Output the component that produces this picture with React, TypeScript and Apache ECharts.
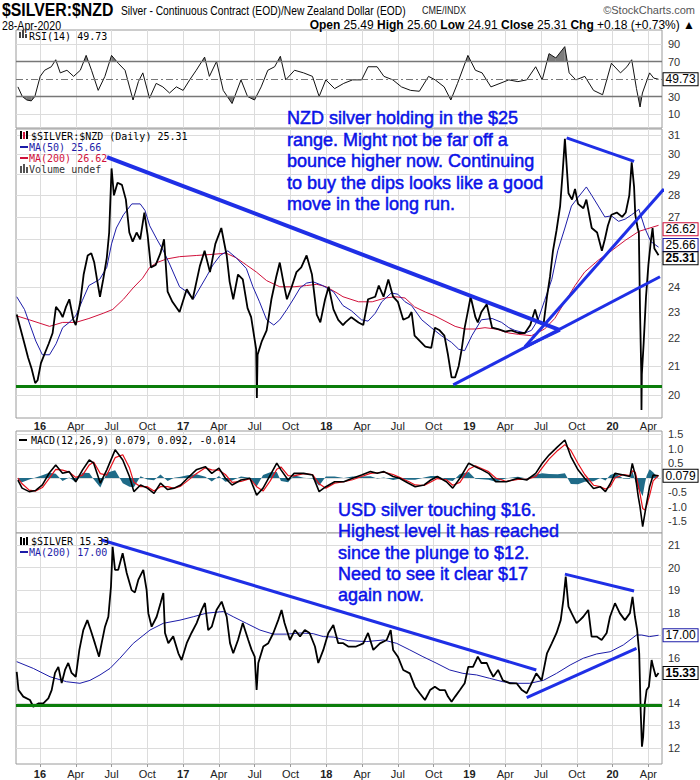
import React, { useEffect, useRef } from "react";
import * as echarts from "echarts";

// x values are months since 1 Jan 2016
const X_MIN = -2.01;
const X_MAX = 52.14;
const quarterTicks = [0, 3, 6, 9, 12, 15, 18, 21, 24, 27, 30, 33, 36, 39, 42, 45, 48, 51];
const quarterLabels = ["16", "Apr", "Jul", "Oct", "17", "Apr", "Jul", "Oct", "18", "Apr", "Jul", "Oct", "19", "Apr", "Jul", "Oct", "20", "Apr"];
const rsiTicks = [10, 30, 70, 90];
const nzdTicks = [20, 21, 22, 23, 24, 25, 26, 27, 28, 29, 30, 31];
const nzdHiddenLabels = [25, 26];
const macdTicks = [-1.5, -1.0, -0.5, 0, 0.5, 1.0, 1.5];
const macdHiddenLabels = [0];
const usdTicks = [12, 13, 14, 15, 16, 17, 18, 19, 20, 21];
const usdHiddenLabels = [15, 17];

const rsi14: [number, number][] = [
  [-1.85, 41], [-1.48, 30], [-1.1, 26], [-0.73, 25], [-0.43, 30], [0.02, 53], [0.39, 60], [0.95, 64], [1.32, 72], [1.7, 57],
  [2.26, 60], [2.82, 53], [3.38, 60], [3.87, 77], [4.32, 60], [4.88, 37], [5.44, 53], [6.0, 77], [6.56, 68], [7.13, 60],
  [7.8, 26], [8.25, 47], [8.62, 57], [9.18, 28], [9.74, 45], [10.3, 41], [10.86, 34], [11.43, 41], [12.0, 37], [12.55, 49],
  [13.1, 60], [13.8, 75], [14.2, 53], [14.8, 70], [15.36, 37], [16.1, 22], [16.85, 49], [17.4, 30], [17.98, 26], [18.54, 41],
  [19.1, 60], [19.67, 64], [20.15, 76], [20.6, 49], [21.34, 60], [22.1, 57], [22.84, 53], [23.4, 30], [23.96, 49], [24.7, 39],
  [25.46, 45], [26.2, 49], [26.96, 49], [27.5, 64], [28.26, 64], [28.83, 53], [29.58, 49], [30.3, 41], [31.07, 37], [31.8, 36],
  [32.57, 53], [33.13, 49], [33.88, 41], [34.44, 26], [35.0, 45], [35.87, 77], [36.5, 60], [37.06, 57], [37.8, 41], [38.56, 45],
  [39.3, 49], [40.06, 47], [40.8, 49], [41.55, 64], [42.1, 49], [42.67, 79], [43.24, 74], [43.99, 87], [44.36, 57], [44.92, 49],
  [45.67, 53], [46.4, 37], [47.16, 32], [47.9, 68], [48.66, 57], [49.2, 64], [49.6, 72], [50.0, 39], [50.3, 18], [50.5, 34],
  [51.1, 57], [51.45, 51], [51.85, 49.73],
];

const nzdClose: [number, number][] = [
  [-1.95, 22.9], [-1.6, 22.3], [-1.3, 21.8], [-1.0, 21.3], [-0.7, 20.9], [-0.4, 20.4], [-0.2, 20.5], [0.08, 21.1], [0.45, 21.5], [0.73, 21.8],
  [1.06, 22.2], [1.34, 23.2], [1.68, 23.0], [1.9, 22.8], [2.18, 23.2], [2.46, 23.5], [2.8, 22.7], [3.0, 22.5], [3.38, 23.4], [3.66, 24.5],
  [4.0, 25.3], [4.3, 25.4], [4.55, 25.0], [4.78, 24.3], [5.03, 23.6], [5.3, 24.3], [5.6, 25.2], [5.8, 26.3], [6.0, 29.3], [6.2, 28.0],
  [6.5, 28.6], [6.87, 28.5], [7.2, 27.8], [7.49, 26.3], [7.77, 25.9], [8.1, 26.3], [8.4, 26.0], [8.75, 27.2], [9.02, 26.2], [9.3, 24.8],
  [9.7, 24.9], [10.1, 25.4], [10.4, 26.0], [10.7, 23.8], [11.1, 23.4], [11.7, 23.0], [12.3, 23.9], [12.8, 23.5], [13.4, 24.85], [13.8, 25.5],
  [14.25, 24.6], [14.7, 25.8], [15.2, 26.5], [15.65, 25.3], [15.9, 24.2], [16.2, 23.5], [16.6, 24.5], [17.0, 24.3], [17.4, 23.15], [17.7, 22.8],
  [18.12, 21.6], [18.18, 19.9], [18.24, 21.4], [18.6, 21.9], [19.0, 22.3], [19.4, 23.5], [19.8, 24.4], [20.1, 25.0], [20.4, 24.2], [20.7, 23.5],
  [21.1, 24.0], [21.5, 24.6], [21.9, 24.8], [22.35, 25.3], [22.8, 24.5], [23.2, 22.9], [23.5, 22.6], [23.9, 23.5], [24.2, 24.0], [24.6, 23.1],
  [25.0, 22.7], [25.4, 22.5], [25.6, 22.6], [26.1, 22.8], [26.7, 22.6], [27.1, 22.5], [27.5, 23.5], [28.1, 23.6], [28.4, 24.05], [28.8, 23.6],
  [29.2, 24.3], [29.6, 23.6], [30.0, 23.4], [30.45, 22.7], [30.9, 22.8], [31.15, 23.0], [31.4, 22.1], [31.85, 21.9], [32.3, 21.7], [32.8, 21.65],
  [33.1, 22.4], [33.5, 22.3], [33.9, 22.1], [34.2, 21.4], [34.5, 20.6], [34.8, 20.6], [35.1, 21.0], [35.35, 21.6], [35.6, 22.4], [35.9, 23.1],
  [36.1, 23.6], [36.5, 22.8], [36.7, 22.6], [37.0, 23.0], [37.45, 23.3], [37.9, 22.4], [38.4, 22.35], [39.0, 22.25], [39.5, 22.3], [40.1, 22.2],
  [40.65, 22.2], [41.1, 22.5], [41.5, 23.1], [41.8, 22.6], [42.2, 22.5], [42.5, 23.6], [42.75, 24.4], [43.0, 25.5], [43.3, 26.4], [43.6, 27.5],
  [43.8, 29.0], [44.0, 30.8], [44.3, 28.1], [44.6, 27.8], [44.85, 28.3], [45.1, 27.6], [45.55, 27.4], [45.8, 27.8], [46.25, 26.5], [46.7, 26.3],
  [47.1, 25.5], [47.35, 26.0], [47.6, 26.6], [47.9, 27.1], [48.35, 27.2], [48.8, 27.0], [49.1, 27.2], [49.4, 28.0], [49.6, 29.6], [49.8, 28.4],
  [49.9, 27.1], [50.1, 26.5], [50.2, 26.3], [50.3, 23.0], [50.4, 20.8], [50.42, 19.5], [50.45, 20.7], [50.6, 21.8], [50.8, 23.6], [51.0, 24.9],
  [51.2, 25.9], [51.35, 26.5], [51.5, 25.6], [51.85, 25.31],
];

const nzdMa50: [number, number][] = [
  [-1.95, 23.6], [-1.3, 23.1], [-0.35, 21.9], [0.2, 21.4], [0.8, 21.4], [1.35, 21.8], [1.9, 22.4], [2.45, 22.6], [3.0, 22.85], [3.55, 23.45],
  [4.1, 24.05], [5.0, 24.3], [5.6, 24.8], [6.0, 25.8], [6.4, 26.5], [7.0, 27.1], [7.7, 27.6], [8.4, 27.6], [8.8, 27.3], [9.2, 26.6],
  [9.8, 26.0], [10.35, 25.5], [10.9, 24.9], [11.7, 24.0], [12.3, 23.8], [12.85, 23.5], [13.4, 23.95], [14.0, 24.45], [14.5, 24.9], [15.1, 25.3],
  [15.75, 25.5], [16.45, 25.2], [17.3, 24.75], [17.85, 24.0], [18.4, 23.4], [19.0, 22.7], [19.6, 22.5], [20.1, 22.7], [20.7, 23.1], [21.3, 23.55],
  [21.8, 23.95], [22.35, 24.15], [22.9, 24.2], [23.7, 24.05], [24.6, 23.8], [25.4, 23.25], [26.1, 23.05], [26.95, 22.7], [27.5, 22.65], [28.1, 22.95],
  [28.65, 23.4], [29.45, 23.75], [30.0, 23.7], [30.6, 23.4], [31.15, 23.25], [32.0, 22.7], [32.8, 22.4], [33.65, 22.1], [34.5, 21.85], [35.1, 21.6],
  [35.6, 21.55], [36.2, 22.1], [37.0, 22.7], [37.9, 22.75], [38.7, 22.6], [39.3, 22.4], [39.8, 22.3], [40.65, 22.2], [41.2, 22.3], [41.75, 22.7],
  [42.3, 23.45], [42.9, 24.3], [43.4, 25.5], [44.0, 26.5], [44.55, 27.5], [45.1, 27.9], [45.8, 28.4], [46.25, 28.0], [46.8, 27.5], [47.35, 27.0],
  [47.9, 27.05], [48.5, 26.8], [49.05, 26.9], [49.6, 27.1], [50.2, 27.35], [50.7, 26.5], [51.2, 25.9], [51.85, 25.66],
];

const nzdMa200: [number, number][] = [
  [-1.95, 22.85], [-0.9, 22.7], [0.8, 22.45], [1.9, 22.6], [3.0, 22.6], [4.1, 22.75], [5.3, 22.95], [6.1, 23.1], [7.0, 23.5], [7.8, 23.95],
  [8.6, 24.35], [9.2, 24.8], [9.8, 25.0], [10.6, 25.15], [11.7, 25.25], [13.1, 25.3], [14.5, 25.35], [15.6, 25.4], [16.45, 25.2], [17.3, 24.9],
  [18.15, 24.6], [19.0, 24.25], [20.1, 24.0], [21.3, 24.0], [22.35, 24.05], [23.2, 24.1], [24.0, 24.0], [24.9, 23.75], [25.4, 23.6], [26.7, 23.4],
  [27.85, 23.4], [28.95, 23.55], [29.8, 23.6], [30.6, 23.55], [31.4, 23.2], [32.3, 23.0], [33.1, 22.85], [33.95, 22.65], [34.8, 22.45], [35.6, 22.35],
  [36.5, 22.35], [37.3, 22.4], [38.2, 22.35], [39.3, 22.2], [40.1, 22.15], [41.2, 22.1], [42.3, 22.35], [43.15, 22.75], [44.0, 23.4], [44.85, 24.05],
  [45.65, 24.6], [46.8, 25.1], [47.9, 25.5], [49.05, 25.95], [50.2, 26.35], [51.85, 26.62],
];

const macdLine: [number, number][] = [
  [-1.85, -0.07], [-1.5, -0.35], [-0.9, -0.47], [-0.36, -0.43], [0.2, -0.24], [0.76, 0.16], [1.32, 0.45], [1.89, 0.16], [2.45, 0.22], [3.0, -0.13],
  [3.57, 0.28], [4.13, 0.62], [4.5, 0.51], [5.06, -0.18], [5.6, 0.28], [6.3, 0.97], [6.94, 0.62], [7.5, 0.05], [7.87, -0.47], [8.43, -0.24],
  [9.0, -0.35], [9.56, -0.53], [10.1, -0.18], [10.7, -0.4], [11.24, -0.35], [11.8, -0.24], [12.36, -0.01], [13.1, 0.28], [13.86, 0.39], [14.4, 0.16],
  [15.0, 0.34], [15.54, -0.01], [16.1, -0.24], [16.85, -0.07], [17.6, -0.01], [18.16, -0.59], [18.7, -0.35], [19.3, 0.1], [19.85, 0.51], [20.2, 0.28],
  [20.8, -0.07], [21.3, 0.16], [22.1, 0.16], [22.85, 0.1], [23.4, -0.47], [23.96, -0.3], [24.7, -0.13], [25.46, -0.13], [26.2, -0.01], [26.96, 0.1],
  [27.7, 0.22], [28.27, 0.16], [28.83, 0.22], [29.6, 0.05], [30.14, -0.01], [30.89, -0.18], [31.45, -0.3], [32.2, -0.24], [32.76, -0.07], [33.3, 0.05],
  [34.07, -0.13], [34.6, -0.35], [35.2, -0.01], [35.94, 0.51], [36.5, 0.39], [37.06, 0.28], [37.6, 0.16], [38.2, -0.13], [39.1, -0.13], [40.06, -0.01],
  [40.8, -0.07], [41.55, 0.16], [42.1, 0.51], [42.67, 0.79], [43.4, 1.08], [44.0, 1.31], [44.5, 0.74], [45.1, 0.28], [45.66, -0.01], [46.4, -0.36],
  [46.96, -0.3], [47.4, -0.47], [47.8, -0.2], [48.2, 0.16], [48.9, 0.1], [49.45, 0.05], [49.65, 0.5], [49.9, 0.1], [50.15, -0.64], [50.3, -1.0],
  [50.52, -1.68], [50.85, -0.87], [51.1, -0.3], [51.4, 0.1], [51.85, 0.079],
];

const macdSignal: [number, number][] = [
  [-1.85, 0.0], [-1.5, -0.2], [-0.9, -0.42], [-0.36, -0.45], [0.2, -0.33], [0.76, -0.02], [1.32, 0.3], [1.89, 0.27], [2.45, 0.2], [3.0, 0.02],
  [3.57, 0.1], [4.13, 0.45], [4.5, 0.55], [5.06, 0.15], [5.6, 0.1], [6.3, 0.7], [6.94, 0.8], [7.5, 0.35], [7.87, -0.15], [8.43, -0.3],
  [9.0, -0.3], [9.56, -0.45], [10.1, -0.3], [10.7, -0.3], [11.24, -0.36], [11.8, -0.28], [12.36, -0.1], [13.1, 0.15], [13.86, 0.35], [14.4, 0.28],
  [15.0, 0.27], [15.54, 0.12], [16.1, -0.15], [16.85, -0.12], [17.6, -0.02], [18.16, -0.3], [18.7, -0.45], [19.3, -0.1], [19.85, 0.3], [20.2, 0.38],
  [20.8, 0.08], [21.3, 0.07], [22.1, 0.15], [22.85, 0.12], [23.4, -0.2], [23.96, -0.35], [24.7, -0.18], [25.46, -0.13], [26.2, -0.06], [26.96, 0.05],
  [27.7, 0.16], [28.27, 0.18], [28.83, 0.2], [29.6, 0.12], [30.14, 0.02], [30.89, -0.12], [31.45, -0.24], [32.2, -0.26], [32.76, -0.14], [33.3, -0.02],
  [34.07, -0.06], [34.6, -0.25], [35.2, -0.15], [35.94, 0.3], [36.5, 0.42], [37.06, 0.32], [37.6, 0.22], [38.2, 0.0], [39.1, -0.12], [40.06, -0.05],
  [40.8, -0.05], [41.55, 0.05], [42.1, 0.35], [42.67, 0.65], [43.4, 0.95], [44.0, 1.15], [44.5, 0.95], [45.1, 0.5], [45.66, 0.12], [46.4, -0.25],
  [46.96, -0.3], [47.4, -0.38], [47.8, -0.3], [48.2, 0.0], [48.9, 0.12], [49.45, 0.08], [49.65, 0.25], [49.9, 0.2], [50.15, -0.25], [50.3, -0.55],
  [50.52, -1.05], [50.7, -1.1], [50.85, -0.95], [51.1, -0.6], [51.4, -0.1], [51.85, 0.092],
];

const macdHist: [number, number][] = [
  [-1.85, -0.08], [-1.5, -0.15], [-0.9, -0.05], [-0.36, 0.02], [0.2, 0.09], [0.76, 0.18], [1.32, 0.15], [1.89, -0.1], [2.45, 0.02], [3.0, -0.15],
  [3.57, 0.18], [4.13, 0.17], [4.5, -0.04], [5.06, -0.33], [5.6, 0.18], [6.3, 0.27], [6.94, -0.18], [7.5, -0.3], [7.87, -0.32], [8.43, 0.06],
  [9.0, -0.05], [9.56, -0.08], [10.1, 0.12], [10.7, -0.1], [11.24, 0.01], [11.8, 0.04], [12.36, 0.09], [13.1, 0.13], [13.86, 0.04], [14.4, -0.12],
  [15.0, 0.07], [15.54, -0.13], [16.1, -0.09], [16.85, 0.05], [17.6, 0.01], [18.16, -0.29], [18.7, 0.1], [19.3, 0.2], [19.85, 0.21], [20.2, -0.1],
  [20.8, -0.15], [21.3, 0.09], [22.1, 0.01], [22.85, -0.02], [23.4, -0.27], [23.96, 0.05], [24.7, 0.05], [25.46, 0.0], [26.2, 0.05], [26.96, 0.05],
  [27.7, 0.06], [28.27, -0.02], [28.83, 0.02], [29.6, -0.07], [30.14, -0.03], [30.89, -0.06], [31.45, -0.06], [32.2, 0.02], [32.76, 0.07], [33.3, 0.07],
  [34.07, -0.07], [34.6, -0.1], [35.2, 0.14], [35.94, 0.21], [36.5, -0.03], [37.06, -0.04], [37.6, -0.06], [38.2, -0.13], [39.1, -0.01], [40.06, 0.04],
  [40.8, -0.02], [41.55, 0.11], [42.1, 0.16], [42.67, 0.14], [43.4, 0.13], [44.0, 0.16], [44.5, -0.21], [45.1, -0.22], [45.66, -0.13], [46.4, -0.11],
  [46.96, 0.0], [47.4, -0.09], [47.8, 0.1], [48.2, 0.16], [48.9, -0.02], [49.45, -0.03], [49.65, 0.25], [49.9, -0.1], [50.15, -0.39], [50.3, -0.45],
  [50.52, -0.63], [50.7, -0.2], [50.85, 0.08], [51.1, 0.3], [51.4, 0.2], [51.85, -0.014],
];

const usdClose: [number, number][] = [
  [-1.95, 15.38], [-1.8, 14.57], [-1.4, 14.28], [-0.84, 14.13], [-0.56, 13.83], [-0.14, 13.98], [0.28, 13.98], [0.7, 14.2], [0.98, 14.57], [1.26, 15.33],
  [1.54, 15.6], [1.82, 14.88], [2.1, 15.46], [2.37, 15.77], [2.65, 15.33], [3.0, 15.16], [3.3, 16.35], [3.63, 17.23], [3.97, 17.67], [4.25, 17.23],
  [4.6, 16.65], [4.95, 16.05], [5.17, 16.65], [5.45, 17.38], [5.73, 17.82], [5.95, 19.15], [6.09, 20.92], [6.29, 19.9], [6.56, 19.9], [6.93, 20.64],
  [7.27, 19.76], [7.68, 19.0], [7.96, 18.9], [8.24, 19.45], [8.66, 19.9], [8.94, 19.0], [9.08, 17.98], [9.36, 17.38], [9.78, 17.82], [10.11, 18.43],
  [10.34, 18.87], [10.48, 17.1], [10.76, 16.65], [11.17, 16.95], [11.6, 16.2], [11.87, 15.9], [12.3, 16.65], [12.7, 17.1], [13.13, 17.54], [13.55, 18.12],
  [13.83, 18.43], [14.1, 17.23], [14.4, 17.38], [14.8, 18.12], [15.23, 18.49], [15.65, 17.82], [15.93, 16.65], [16.2, 16.2], [16.6, 16.79], [17.0, 17.54],
  [17.46, 16.79], [17.74, 16.35], [18.0, 16.05], [18.16, 14.57], [18.3, 15.77], [18.72, 16.5], [19.14, 16.65], [19.56, 17.1], [19.97, 17.67], [20.25, 18.12],
  [20.5, 17.54], [20.95, 16.79], [21.37, 17.23], [21.8, 16.95], [22.2, 17.23], [22.6, 17.1], [23.05, 16.5], [23.33, 15.77], [23.75, 16.35], [24.17, 17.1],
  [24.59, 17.45], [25.0, 16.65], [25.42, 16.65], [25.84, 16.5], [26.5, 16.5], [27.1, 16.64], [27.5, 17.1], [27.94, 16.35], [28.5, 16.64], [29.06, 16.79],
  [29.4, 17.23], [29.6, 16.35], [30.0, 16.05], [30.45, 15.46], [31.0, 15.31], [31.43, 14.72], [31.85, 14.42], [32.27, 14.13], [32.7, 14.57], [33.1, 14.72],
  [33.5, 14.57], [33.95, 14.57], [34.2, 14.28], [34.5, 14.05], [34.8, 14.28], [35.2, 14.57], [35.6, 14.87], [35.9, 15.6], [36.3, 15.6], [36.7, 16.05],
  [37.0, 15.77], [37.45, 15.77], [37.7, 15.46], [38.0, 15.16], [38.4, 15.46], [38.8, 15.0], [39.4, 14.87], [39.95, 14.87], [40.4, 14.57], [40.8, 14.43],
  [41.2, 14.87], [41.6, 15.31], [42.05, 15.0], [42.5, 16.2], [42.9, 16.64], [43.3, 17.1], [43.65, 17.67], [43.87, 18.56], [44.07, 19.6], [44.3, 18.27],
  [44.56, 17.98], [44.98, 17.54], [45.26, 17.67], [45.54, 17.82], [45.96, 18.12], [46.24, 16.94], [46.66, 16.94], [47.08, 16.79], [47.5, 17.1], [47.78, 17.82],
  [48.2, 18.42], [48.6, 17.98], [49.03, 17.67], [49.45, 17.98], [49.67, 18.7], [49.87, 17.82], [50.06, 17.23], [50.23, 16.2], [50.35, 13.69], [50.46, 12.06],
  [50.56, 12.5], [50.7, 13.98], [50.85, 14.57], [51.04, 14.72], [51.27, 15.9], [51.4, 15.6], [51.63, 15.16], [51.85, 15.33],
];

const usdMa200: [number, number][] = [
  [-1.95, 15.83], [-0.56, 15.53], [0.84, 15.16], [2.23, 14.94], [3.35, 14.87], [4.19, 15.0], [5.03, 15.24], [5.87, 15.53], [6.7, 15.98], [7.82, 16.64],
  [9.22, 17.23], [10.34, 17.53], [11.74, 17.67], [12.85, 17.82], [13.97, 17.98], [15.37, 18.05], [16.2, 17.82], [17.3, 17.53], [18.44, 17.23], [19.56, 17.05],
  [20.67, 17.05], [21.8, 17.1], [22.9, 17.07], [23.75, 16.94], [24.6, 16.92], [25.84, 16.76], [27.4, 16.72], [28.8, 16.79], [29.9, 16.64], [31.0, 16.35],
  [32.1, 16.05], [33.2, 15.77], [34.35, 15.46], [35.45, 15.31], [36.6, 15.24], [37.7, 15.09], [38.8, 14.94], [39.95, 14.87], [41.05, 14.87], [42.2, 15.0],
  [43.3, 15.31], [44.44, 15.68], [45.54, 15.98], [46.66, 16.17], [47.8, 16.27], [48.9, 16.57], [50.0, 17.01], [50.44, 17.01], [51.1, 16.94], [51.85, 17.0],
];

// hand-drawn annotation lines: [month, price] endpoints
const nzdTrendLines: { pts: [number, number][]; w: number }[] = [
  { pts: [[5.62, 29.87], [43.59, 22.31]], w: 4 },
  { pts: [[44.15, 30.85], [49.8, 29.65]], w: 3 },
  { pts: [[34.64, 20.34], [51.97, 24.41]], w: 3 },
  { pts: [[40.65, 21.69], [52.3, 28.3]], w: 3 },
  { pts: [[40.65, 21.69], [43.59, 22.31]], w: 3 },
];
const nzdSupport = 20.28;
const usdTrendLines: { pts: [number, number][]; w: number }[] = [
  { pts: [[5.17, 21.22], [41.6, 15.46]], w: 3 },
  { pts: [[44.0, 19.71], [49.8, 18.96]], w: 3 },
  { pts: [[40.8, 14.23], [50.0, 16.42]], w: 3 },
];
const usdSupport = 13.88;

const nzdNote = [
  "NZD silver holding in the $25",
  "range. Might not be far off a",
  "bounce higher now. Continuing",
  "to buy the dips looks like a good",
  "move in the long run.",
];
const usdNote = [
  "USD silver touching $16.",
  "Highest level it has reached",
  "since the plunge to $12.",
  "Need to see it clear $17",
  "again now.",
];

const FONT = "'Liberation Sans', Arial, sans-serif";
const MONO = "'DejaVu Sans Mono', 'Liberation Mono', monospace";
const TREND = "#1f2fe6";
const GREEN = "#0b7d0b";
const RED = "#d0103a";
const BLUE = "#1c1ca8";
const NOTE = "#0a12e8";
const GRIDC = "#dcdcdc";
const RSI_HI = 70;
const RSI_LO = 30;

function endLabel(text: string, color: string, bold = false, dy = 0) {
  return {
    show: true,
    formatter: text,
    distance: 5,
    offset: [0, dy],
    fontFamily: FONT,
    fontSize: 12,
    lineHeight: 11,
    fontWeight: bold ? "bold" : "normal",
    color: "#000",
    backgroundColor: "#fff",
    borderColor: color,
    borderWidth: 1,
    padding: [1, 2, 0, 2],
  };
}

function lineSeries(idx: number, data: number[][], color: string, width: number, extra: any = {}) {
  return {
    type: "line",
    xAxisIndex: idx,
    yAxisIndex: idx,
    data,
    symbol: "none",
    showSymbol: false,
    silent: true,
    animation: false,
    lineStyle: { color, width },
    ...extra,
  };
}

// shaded parts of one RSI segment beyond a threshold (above if up, else below)
function zonePolygon(api: any, a: [number, number], b: [number, number], t: number, up: boolean) {
  const over = (v: number) => (up ? v > t : v < t);
  const [x0, y0] = a;
  const [x1, y1] = b;
  if (!over(y0) && !over(y1)) return null;
  let pts: number[][];
  if (over(y0) && over(y1)) {
    pts = [[x0, t], [x0, y0], [x1, y1], [x1, t]];
  } else {
    const xc = x0 + ((t - y0) / (y1 - y0)) * (x1 - x0);
    pts = over(y0) ? [[x0, t], [x0, y0], [xc, t]] : [[xc, t], [x1, y1], [x1, t]];
  }
  return {
    type: "polygon",
    shape: { points: pts.map((p) => api.coord(p)) },
    style: { fill: "#7d7d7d" },
  };
}

function buildOption() {
  const ln = (p: number) => Math.log(p);
  const grids = [
    { top: 30, height: 98 },
    { top: 129, height: 289 },
    { top: 431, height: 102 },
    { top: 533, height: 231 },
  ].map((g) => ({ left: 16, width: 646, ...g, show: true, borderColor: "#9a9a9a", borderWidth: 1, backgroundColor: "#fff" }));

  const xFormatter = (v: number) => {
    const i = quarterTicks.indexOf(Math.round(v));
    const s = i >= 0 ? quarterLabels[i] : "";
    return /^\d/.test(s) ? `{b|${s}}` : s;
  };
  const xAxes = [0, 1, 2, 3].map((i) => ({
    type: "value",
    gridIndex: i,
    min: X_MIN,
    max: X_MAX,
    axisLine: { show: false },
    axisTick: { show: i === 3, customValues: quarterTicks, length: 3, lineStyle: { color: "#999" } },
    axisLabel: {
      show: i === 1 || i === 3,
      customValues: quarterTicks,
      formatter: xFormatter,
      margin: i === 1 ? 2 : 4,
      fontFamily: FONT,
      fontSize: 11,
      color: "#222",
      rich: { b: { fontWeight: "bold", fontSize: 11, fontFamily: FONT, color: "#222" } },
    },
    splitLine: { show: true, lineStyle: { color: GRIDC, width: 1 } },
  }));

  const near = (list: number[], v: number) => list.some((t) => Math.abs(t - v) < 1e-6);
  const yLabel = { fontFamily: FONT, fontSize: 11, color: "#333", margin: 6 };
  const yAxes = [
    { gridIndex: 0, min: -6, max: 106, ticks: rsiTicks, fmt: (v: number) => String(v) },
    {
      gridIndex: 1,
      min: 2.95676,
      max: 3.44411,
      ticks: nzdTicks.map(ln),
      fmt: (v: number) => {
        const p = Math.round(Math.exp(v));
        return near(nzdHiddenLabels, p) ? "" : String(p);
      },
    },
    {
      gridIndex: 2,
      min: -1.897,
      max: 1.62,
      ticks: macdTicks,
      fmt: (v: number) => (near(macdHiddenLabels, v) ? "" : v.toFixed(1)),
    },
    {
      gridIndex: 3,
      min: 11.293,
      max: 21.532,
      ticks: usdTicks,
      fmt: (v: number) => (near(usdHiddenLabels, v) ? "" : String(v)),
    },
  ].map((a) => ({
    type: "value",
    gridIndex: a.gridIndex,
    position: "right",
    min: a.min,
    max: a.max,
    axisLine: { show: false },
    axisTick: { show: false, customValues: a.ticks },
    axisLabel: { ...yLabel, customValues: a.ticks, formatter: a.fmt },
    splitLine: { show: true, lineStyle: { color: GRIDC, width: 1 } },
  }));

  const nzd = (arr: [number, number][]) => arr.map(([m, p]) => [m, ln(p)]);

  const series: any[] = [];
  // RSI overbought / oversold shading
  series.push({
    type: "custom",
    xAxisIndex: 0,
    yAxisIndex: 0,
    data: rsi14,
    encode: { x: 0, y: 1 },
    silent: true,
    z: 1,
    clip: true,
    renderItem: (params: any, api: any) => {
      const i = params.dataIndex;
      if (i >= rsi14.length - 1) return null;
      const a = rsi14[i];
      const b = rsi14[i + 1];
      const kids = [zonePolygon(api, a, b, RSI_HI, true), zonePolygon(api, a, b, RSI_LO, false)].filter(Boolean);
      if (!kids.length) return null;
      return { type: "group", children: kids };
    },
  });
  series.push(
    lineSeries(0, rsi14, "#111", 1, {
      z: 3,
      endLabel: endLabel("49.73", "#000"),
      markLine: {
        silent: true,
        symbol: "none",
        label: { show: false },
        data: [
          { yAxis: RSI_HI, lineStyle: { color: "#777", width: 1.3, type: "solid" } },
          { yAxis: RSI_LO, lineStyle: { color: "#777", width: 1.3, type: "solid" } },
          { yAxis: 50, lineStyle: { color: "#777", width: 1, type: [7, 3, 2, 3] } },
        ],
      },
    })
  );
  // Main NZD panel
  series.push(lineSeries(1, nzd(nzdMa200), RED, 1, { endLabel: endLabel("26.62", RED, false, 4), z: 3 }));
  series.push(lineSeries(1, nzd(nzdMa50), BLUE, 1, { endLabel: endLabel("25.66", BLUE, false, -2), z: 3 }));
  series.push(
    lineSeries(1, nzd(nzdClose), "#000", 1.8, {
      z: 4,
      endLabel: endLabel("25.31", "#000", true, 3),
      markLine: {
        silent: true,
        symbol: "none",
        label: { show: false },
        data: [{ yAxis: ln(nzdSupport), lineStyle: { color: GREEN, width: 3, type: "solid" } }],
      },
    })
  );
  nzdTrendLines.forEach((t) => series.push(lineSeries(1, nzd(t.pts), TREND, t.w, { z: 5 })));

  // MACD panel
  series.push(lineSeries(2, macdHist, "#1f6b88", 0, { areaStyle: { color: "#1f6b88", opacity: 1 }, z: 2 }));
  series.push(lineSeries(2, macdSignal, "#e8101a", 1.2, { z: 3 }));
  series.push(lineSeries(2, macdLine, "#000", 1.6, { z: 4, endLabel: endLabel("0.079", "#000") }));

  // USD panel
  series.push(lineSeries(3, usdMa200, BLUE, 1, { endLabel: endLabel("17.00", BLUE), z: 3 }));
  series.push(
    lineSeries(3, usdClose, "#000", 1.8, {
      z: 4,
      endLabel: endLabel("15.33", "#000", true),
      markLine: {
        silent: true,
        symbol: "none",
        label: { show: false },
        data: [{ yAxis: usdSupport, lineStyle: { color: GREEN, width: 3, type: "solid" } }],
      },
    })
  );
  usdTrendLines.forEach((t) => series.push(lineSeries(3, t.pts, TREND, t.w, { z: 5 })));

  const txt = (x: number, y: number, text: string, style: any = {}, extra: any = {}) => ({
    type: "text",
    x,
    y,
    silent: true,
    z: 100,
    ...extra,
    style: { text, fill: "#000", fontFamily: FONT, fontSize: 12, verticalAlign: "middle", align: "left", ...style },
  });
  const rect = (x: number, y: number, w: number, h: number, fill: string) => ({
    type: "rect",
    silent: true,
    z: 100,
    shape: { x, y, width: w, height: h },
    style: { fill },
  });

  const graphic: any[] = [
    txt(2, 10, "$SILVER:$NZD", { fontSize: 18, fontWeight: "bold" }, { scaleX: 0.88 }),
    txt(121, 10, "Silver - Continuous Contract (EOD)/New Zealand Dollar (EOD)", { fontSize: 13.5 }, { scaleX: 0.76 }),
    txt(422, 10, "CME/INDX", { fontSize: 10, fill: "#222" }, { scaleX: 0.9 }),
    txt(695, 10, "\u00A9StockCharts.com", { fontSize: 11, fill: "#555", align: "right" }),
    txt(2, 25, "28-Apr-2020", { fontSize: 12.5 }, { scaleX: 0.85 }),
    txt(695, 25, "{b|Open} 25.49 {b|High} 25.60 {b|Low} 24.91 {b|Close} 25.31 {b|Chg} +0.18 (+0.73%) \u25B2", {
      fontSize: 12,
      align: "right",
      rich: { b: { fontWeight: "bold", fontSize: 12, fontFamily: FONT } },
    }),
    // RSI legend
    rect(19, 32, 2, 6, "#444"),
    rect(22, 30, 2, 8, "#444"),
    rect(25, 34, 2, 4, "#444"),
    txt(29, 36, "RSI(14) 49.73", { fontFamily: MONO, fontSize: 10 }),
    // main legend
    rect(20, 131, 2, 8, "#000"),
    rect(23, 132, 2, 7, RED),
    rect(26, 131, 2, 8, "#000"),
    txt(31, 136, "$SILVER:$NZD (Daily) 25.31", { fontFamily: MONO, fontSize: 10 }),
    rect(20, 146, 8, 2, BLUE),
    txt(29, 147, "MA(50) 25.66", { fontFamily: MONO, fontSize: 10, fill: BLUE }),
    rect(20, 157, 8, 2, RED),
    txt(29, 158, "MA(200) 26.62", { fontFamily: MONO, fontSize: 10, fill: RED }),
    rect(20, 166, 2, 7, "#555"),
    rect(23, 164, 2, 9, "#555"),
    rect(26, 167, 2, 6, "#555"),
    txt(29, 169, "Volume undef", { fontFamily: MONO, fontSize: 10, fill: "#333" }),
    // MACD legend
    rect(19, 439, 8, 2, "#000"),
    txt(31, 440, "{k|MACD(12,26,9) 0.079,} {r|0.092,} {t|-0.014}", {
      fontFamily: MONO,
      fontSize: 10,
      rich: {
        k: { color: "#000", fontFamily: MONO, fontSize: 10 },
        r: { color: "#e8101a", fontFamily: MONO, fontSize: 10 },
        t: { color: "#2a8ab8", fontFamily: MONO, fontSize: 10 },
      },
    }),
    // USD legend
    rect(20, 537, 2, 8, "#000"),
    rect(23, 538, 2, 7, "#000"),
    rect(26, 537, 2, 8, "#000"),
    txt(31, 541, "$SILVER 15.33", { fontFamily: MONO, fontSize: 10 }),
    rect(20, 551, 8, 2, BLUE),
    txt(29, 552, "MA(200) 17.00", { fontFamily: MONO, fontSize: 10, fill: BLUE }),
  ];
  nzdNote.forEach((s, i) =>
    graphic.push(txt(287, 118 + i * 21.5, s, { fontSize: 18, fill: NOTE, stroke: NOTE, lineWidth: 0.5 }))
  );
  usdNote.forEach((s, i) =>
    graphic.push(txt(338, 510 + i * 21.3, s, { fontSize: 18, fill: NOTE, stroke: NOTE, lineWidth: 0.5 }))
  );

  return {
    animation: false,
    backgroundColor: "#fff",
    grid: grids,
    xAxis: xAxes,
    yAxis: yAxes,
    series,
    graphic,
  };
}

export default function App() {
  const ref = useRef<HTMLDivElement>(null);
  useEffect(() => {
    document.body.style.margin = "0";
    if (!ref.current) return;
    const chart = echarts.init(ref.current, undefined, { renderer: "svg" });
    chart.setOption(buildOption() as any);
    return () => chart.dispose();
  }, []);
  return <div ref={ref} style={{ width: 700, height: 780 }} />;
}
